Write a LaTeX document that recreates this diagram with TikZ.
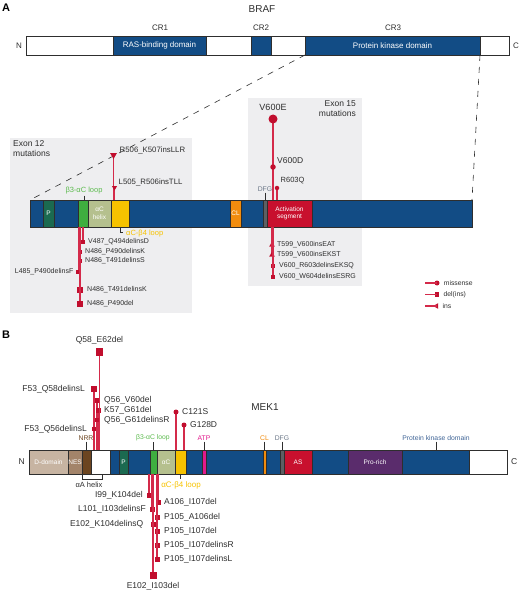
\documentclass[tikz,border=0pt]{standalone}
\usepackage{fontspec}
\setmainfont{Liberation Sans}
\setsansfont{Liberation Sans}
\usepackage{xcolor}
\usepackage{tikz}
\usetikzlibrary{positioning,shapes.geometric}
\definecolor{kinblue}{HTML}{124C85}
\definecolor{bk90}{HTML}{2E2E2E}
\definecolor{exgrey}{HTML}{EEEEF0}
\definecolor{mutred}{HTML}{C10E2E}
\definecolor{stemred}{HTML}{D42A4A}
\definecolor{pgreen}{HTML}{1B6A50}
\definecolor{lgreen}{HTML}{3FAE3F}
\definecolor{lgreentxt}{HTML}{5DBB4F}
\definecolor{olive}{HTML}{B5C08E}
\definecolor{loopyel}{HTML}{F6C200}
\definecolor{cloor}{HTML}{F18C0E}
\definecolor{dfggrey}{HTML}{5D5F63}
\definecolor{dfgtxt}{HTML}{6B7788}
\definecolor{asred}{HTML}{C8102E}
\definecolor{ddtan}{HTML}{C7B4A2}
\definecolor{nesbrown}{HTML}{A3846A}
\definecolor{nrrbrown}{HTML}{6C4520}
\definecolor{atpmag}{HTML}{E2198C}
\definecolor{prorich}{HTML}{5A2C6C}
\definecolor{pkdtxt}{HTML}{3F6496}
\tikzset{
  dom/.style={
    rectangle, draw=bk90, line width=0.5pt, fill=#1,
    inner sep=0pt, outer sep=0pt, anchor=west,
    text=white, align=center, font=\fontsize{6.5}{7.5}\selectfont
  },
  exonbox/.style={rectangle, fill=exgrey, draw=none, anchor=north west, inner sep=0pt},
  zoomline/.style={draw=bk90, line width=0.6pt, dash pattern=on 6pt off 6pt},
  mutstem/.style={draw=stemred, line width=1.1pt},
  sqmark/.style={rectangle, fill=mutred, inner sep=0pt, minimum size=#1},
  sqmark/.default=4.5pt,
  dotmark/.style={circle, fill=mutred, inner sep=0pt, minimum size=#1},
  dotmark/.default=5pt,
  trimark/.style={regular polygon, regular polygon sides=3, fill=mutred,
    inner sep=0pt, minimum size=#1},
  trimark/.default=6pt,
  mutlbl/.style={font=\fontsize{7}{8}\selectfont, text=bk90, inner sep=1pt},
  meklbl/.style={font=\fontsize{8.5}{10}\selectfont, text=bk90, inner sep=1pt},
  feat/.style={font=\fontsize{6.8}{8}\selectfont, text=#1, inner sep=1pt},
  tick/.style={draw=bk90, line width=0.5pt},
  crlbl/.style={font=\fontsize{8}{9}\selectfont, text=bk90, inner sep=0pt},
  title/.style={font=\fontsize{10}{12}\selectfont, text=bk90},
  paneltag/.style={font=\bfseries\fontsize{11}{13}\selectfont, text=black},
}
\begin{document}
\begin{tikzpicture}[x=1pt,y=-1pt]
\useasboundingbox (0,0) rectangle (520,591);
% ---------- panel A: BRAF
\node[paneltag] (tagA) at (6,8) {A};
\node[title] (braftitle) at (262,9) {BRAF};
\node[dom=white, minimum width=483pt, minimum height=19pt] (braf) at (26,45.5) {};
\begin{scope}[minimum height=19pt]
  \node[dom=kinblue, minimum width=93pt, font=\fontsize{8}{9}\selectfont] (rbd) at (113,45.5) {RAS-binding domain};
  \node[dom=kinblue, minimum width=20pt] (cr2) at (251,45.5) {};
  \node[dom=kinblue, minimum width=175pt, font=\fontsize{8}{9}\selectfont] (pkd) at (305,45.5) {Protein kinase domain};
\end{scope}
\node[crlbl] (cr1lbl) at (160,28) {CR1};
\node[crlbl] (cr2lbl) at (cr2 |- cr1lbl) {CR2};
\node[crlbl] (cr3lbl) at (393,28) {CR3};
\node[crlbl, left=4pt of braf] (nA) {N};
\node[crlbl, right=4pt of braf] (cA) {C};

% exon boxes
\node[exonbox, minimum width=182pt, minimum height=175pt] (ex12) at (10,138) {};
\node[exonbox, minimum width=114pt, minimum height=188pt] (ex15) at (248,98) {};
\node[crlbl, font=\fontsize{8.5}{10}\selectfont, anchor=north west, align=left] (ex12lbl) at (13,140) {Exon 12\\mutations};
\node[crlbl, font=\fontsize{8.5}{10}\selectfont, anchor=north east, align=right] (ex15lbl) at (356,100) {Exon 15\\mutations};

% kinase domain, zoomed
\node[dom=kinblue, minimum width=442pt, minimum height=27pt] (kd) at (30,213.5) {};
\begin{scope}[minimum height=27pt]
  \node[dom=pgreen, minimum width=11pt] (pA) at (43,213.5) {P};
  \node[dom=lgreen, minimum width=10pt] (loopA) at (78,213.5) {};
  \node[dom=olive, minimum width=23pt] (acA) at (88,213.5) {αC\\helix};
  \node[dom=loopyel, minimum width=18pt] (ylwA) at (111,213.5) {};
  \node[dom=cloor, minimum width=11pt] (clA) at (230,213.5) {CL};
  \node[dom=dfggrey, minimum width=4pt] (dfgA) at (263,213.5) {};
  \node[dom=asred, minimum width=45pt] (asA) at (267,213.5) {Activation\\segment};
\end{scope}
\draw[zoomline] (pkd.south west) -- (kd.north west);
\draw[zoomline] (pkd.south east) -- (kd.north east);

% features
\node[feat=lgreentxt, font=\fontsize{7.5}{9}\selectfont] (b3aA) at (84,191) {β3-αC loop};
\draw[tick] (b3aA.south) -- (b3aA.south |- kd.north);
\node[feat=dfgtxt] (dfgAl) at (265,189) {DFG};
\draw[tick] (dfgAl.south) -- (dfgAl.south |- kd.north);
\draw[tick] (ylwA.south) -- ++(0,5) -- ++(2.5,0);
\node[feat=loopyel, font=\fontsize{7.5}{9}\selectfont, anchor=west] (ab4A) at (125,233.5) {αC-β4 loop};

% exon 12 mutations
\foreach \px/\py/\sz/\nm/\dx/\dy/\txt in {113.5/155/8/r506/5/-5/R506\_K507insLLR, 114.5/187.5/6/l505/3/-5/L505\_R506insTLL}{
  \coordinate (\nm) at (\px,\py);
  \draw[mutstem] (\nm) -- (\nm |- kd.north);
  \node[trimark=\sz pt, shape border rotate=180] (m\nm) at (\nm) {};
  \node[mutlbl, anchor=west, font=\fontsize{7.8}{9}\selectfont] (t\nm) at (\px+\dx,\py+\dy) {\txt};
}
\foreach \px/\py/\sz/\nm/\anc/\dx/\txt in {
    83/242/4.5/v487/west/4/V487\_Q494delinsD,
    80/252/4.5/n486a/west/4/N486\_P490delinsK,
    80/261/4.5/n486b/west/4/N486\_T491delinsS,
    78.5/272/4.5/l485/east/-4/L485\_P490delinsF,
    80/290/6.5/n486c/west/6/N486\_T491delinsK,
    80/304/6.5/n486d/west/6/N486\_P490del}{
  \coordinate (\nm) at (\px,\py);
  \draw[mutstem] (\nm) -- (\nm |- kd.south);
  \node[sqmark=\sz pt] (m\nm) at (\nm) {};
  \node[mutlbl, anchor=\anc] (t\nm) at (\px+\dx,\py) {\txt};
}

% exon 15 mutations
\coordinate (v600e) at (273,119);
\coordinate (v600d) at (273,167);
\coordinate (r603q) at (277,188);
\draw[mutstem] (v600e) -- (v600e |- kd.north);
\draw[mutstem] (r603q) -- (r603q |- kd.north);
\node[dotmark=9pt] (mv600e) at (v600e) {};
\node[dotmark=5.5pt] (mv600d) at (v600d) {};
\node[dotmark=4.5pt] (mr603q) at (r603q) {};
\node[mutlbl, font=\fontsize{9}{10}\selectfont, above=3pt of mv600e] (tv600e) {V600E};
\node[mutlbl, font=\fontsize{8.5}{10}\selectfont, anchor=west] (tv600d) at (276,161) {V600D};
\node[mutlbl, font=\fontsize{7.5}{9}\selectfont, anchor=west] (tr603q) at (279.5,181) {R603Q};
\foreach \px/\py/\nm/\txt in {272/245/t599a/T599\_V600insEAT, 272/255/t599b/T599\_V600insEKST}{
  \coordinate (\nm) at (\px,\py);
  \draw[mutstem] (\nm) -- (\nm |- kd.south);
  \node[trimark=6.5pt] (m\nm) at (\nm) {};
  \node[mutlbl, anchor=west] (t\nm) at (\px+4,\py) {\txt};
}
\foreach \px/\py/\nm/\txt in {273/266/v600a/V600\_R603delinsEKSQ, 273/277/v600b/V600\_W604delinsESRG}{
  \coordinate (\nm) at (\px,\py);
  \draw[mutstem] (\nm) -- (\nm |- kd.south);
  \node[sqmark] (m\nm) at (\nm) {};
  \node[mutlbl, anchor=west] (t\nm) at (\px+5,\py) {\txt};
}

% legend
\node[dotmark=5pt] (lgm1) at (437,283) {};
\node[sqmark] (lgm2) at (437,294.5) {};
\node[trimark=6.5pt, shape border rotate=90] (lgm3) at (436.5,306) {};
\foreach \k/\txt in {1/missense, 2/del(ins), 3/ins}{
  \draw[mutstem] (lgm\k.center) -- ++(-12,0);
  \node[mutlbl, font=\fontsize{6.8}{8}\selectfont, anchor=west] (lgt\k) at ([xshift=3pt]lgm\k.east) {\txt};
}

% ---------- panel B: MEK1
\node[paneltag] (tagB) at (6,335) {B};
\node[title] (mektitle) at (265,407) {MEK1};
\node[dom=white, minimum width=478pt, minimum height=24pt] (mek) at (29,462) {};
\begin{scope}[minimum height=24pt]
  \node[dom=ddtan, minimum width=39pt] (dd) at (29,462) {D-domain};
  \node[dom=nesbrown, minimum width=14pt] (nes) at (68,462) {NES};
  \node[dom=nrrbrown, minimum width=9pt] (nrr) at (82,462) {};
  \node[dom=kinblue, minimum width=359pt] (kinB) at (110,462) {};
  \node[dom=pgreen, minimum width=9pt] (pB) at (119,462) {P};
  \node[dom=lgreen, minimum width=7pt] (loopB) at (150,462) {};
  \node[dom=olive, minimum width=18pt] (acB) at (157,462) {αC};
  \node[dom=loopyel, minimum width=11pt] (ylwB) at (175,462) {};
  \node[dom=atpmag, minimum width=4pt] (atp) at (202,462) {};
  \node[dom=cloor, minimum width=3pt] (clB) at (263,462) {};
  \node[dom=dfggrey, minimum width=4pt] (dfgB) at (280,462) {};
  \node[dom=asred, minimum width=28pt] (asB) at (284,462) {AS};
  \node[dom=prorich, minimum width=54pt] (pro) at (348,462) {Pro-rich};
\end{scope}
\node[crlbl, font=\fontsize{8.5}{10}\selectfont, left=4pt of mek] (nB) {N};
\node[crlbl, font=\fontsize{8.5}{10}\selectfont, right=4pt of mek] (cB) {C};

% features above / below
\foreach \px/\col/\nm/\txt in {86/nrrbrown/fnrr/NRR, 153/lgreentxt/fb3a/β3-αC loop, 204/atpmag/fatp/ATP,
    264.5/cloor/fcl/CL, 282/dfgtxt/fdfg/DFG, 436/pkdtxt/fpkd/Protein kinase domain}{
  \node[feat=\col] (\nm) at (\px,438) {\txt};
  \draw[tick] (\nm.south) -- (\nm.south |- mek.north);
}
\draw[tick] (82,475) -- (82,479) -- (102,479) -- (102,475);
\node[feat=bk90, font=\fontsize{7.5}{9}\selectfont] (aah) at (89,485) {αA helix};
\draw[tick] (ylwB.south) -- ++(0,5);
\node[feat=loopyel, font=\fontsize{8}{9}\selectfont] (ab4B) at (181,485) {αC-β4 loop};

% MEK1 mutations above
\foreach \px/\py/\sz/\nm/\anc/\dx/\txt in {
    94/389/5.5/f53a/east/-8/F53\_Q58delinsL,
    97/400/5/q56a/west/6/Q56\_V60del,
    98.5/410/5/k57/west/4.5/K57\_G61del,
    97/420/4.5/q56b/west/6/Q56\_G61delinsR,
    94/429/4/f53b/east/-6/F53\_Q56delinsL}{
  \coordinate (\nm) at (\px,\py);
  \draw[mutstem] (\nm) -- (\nm |- mek.north);
  \node[sqmark=\sz pt] (m\nm) at (\nm) {};
  \node[meklbl, anchor=\anc] (t\nm) at (\px+\dx,\py) {\txt};
}
\coordinate (q58) at (99.5,352);
\draw[mutstem] (q58) -- (q58 |- mek.north);
\node[sqmark=7.5pt] (mq58) at (q58) {};
\node[meklbl, above=3pt of mq58] (tq58) {Q58\_E62del};
\foreach \px/\py/\nm/\txt in {176/412/c121/C121S, 184/425/g128/G128D}{
  \coordinate (\nm) at (\px,\py);
  \draw[mutstem] (\nm) -- (\nm |- mek.north);
  \node[dotmark] (m\nm) at (\nm) {};
  \node[meklbl, anchor=west] (t\nm) at (\px+5,\py) {\txt};
}

% MEK1 mutations below
\foreach \px/\py/\sz/\nm/\anc/\dx/\txt in {
    149/495/5/i99/east/-5/I99\_K104del,
    152/509/5/l101/east/-5/L101\_I103delinsF,
    153.5/524/5/e102a/east/-9/E102\_K104delinsQ,
    158/502/5/a106/west/5/A106\_I107del,
    157/517/5/p105a/west/6/P105\_A106del,
    157/531/5/p105b/west/6/P105\_I107del,
    157/545/5/p105c/west/6/P105\_I107delinsR,
    157/559/5/p105d/west/6/P105\_I107delinsL}{
  \coordinate (\nm) at (\px,\py);
  \draw[mutstem] (\nm) -- (\nm |- mek.south);
  \node[sqmark=\sz pt] (m\nm) at (\nm) {};
  \node[meklbl, anchor=\anc] (t\nm) at (\px+\dx,\py) {\txt};
}
\coordinate (e102b) at (153,575);
\draw[mutstem] (e102b) -- (e102b |- mek.south);
\node[sqmark=7pt] (me102b) at (e102b) {};
\node[meklbl, below=2pt of me102b] (te102b) {E102\_I103del};
\end{tikzpicture}
\end{document}
